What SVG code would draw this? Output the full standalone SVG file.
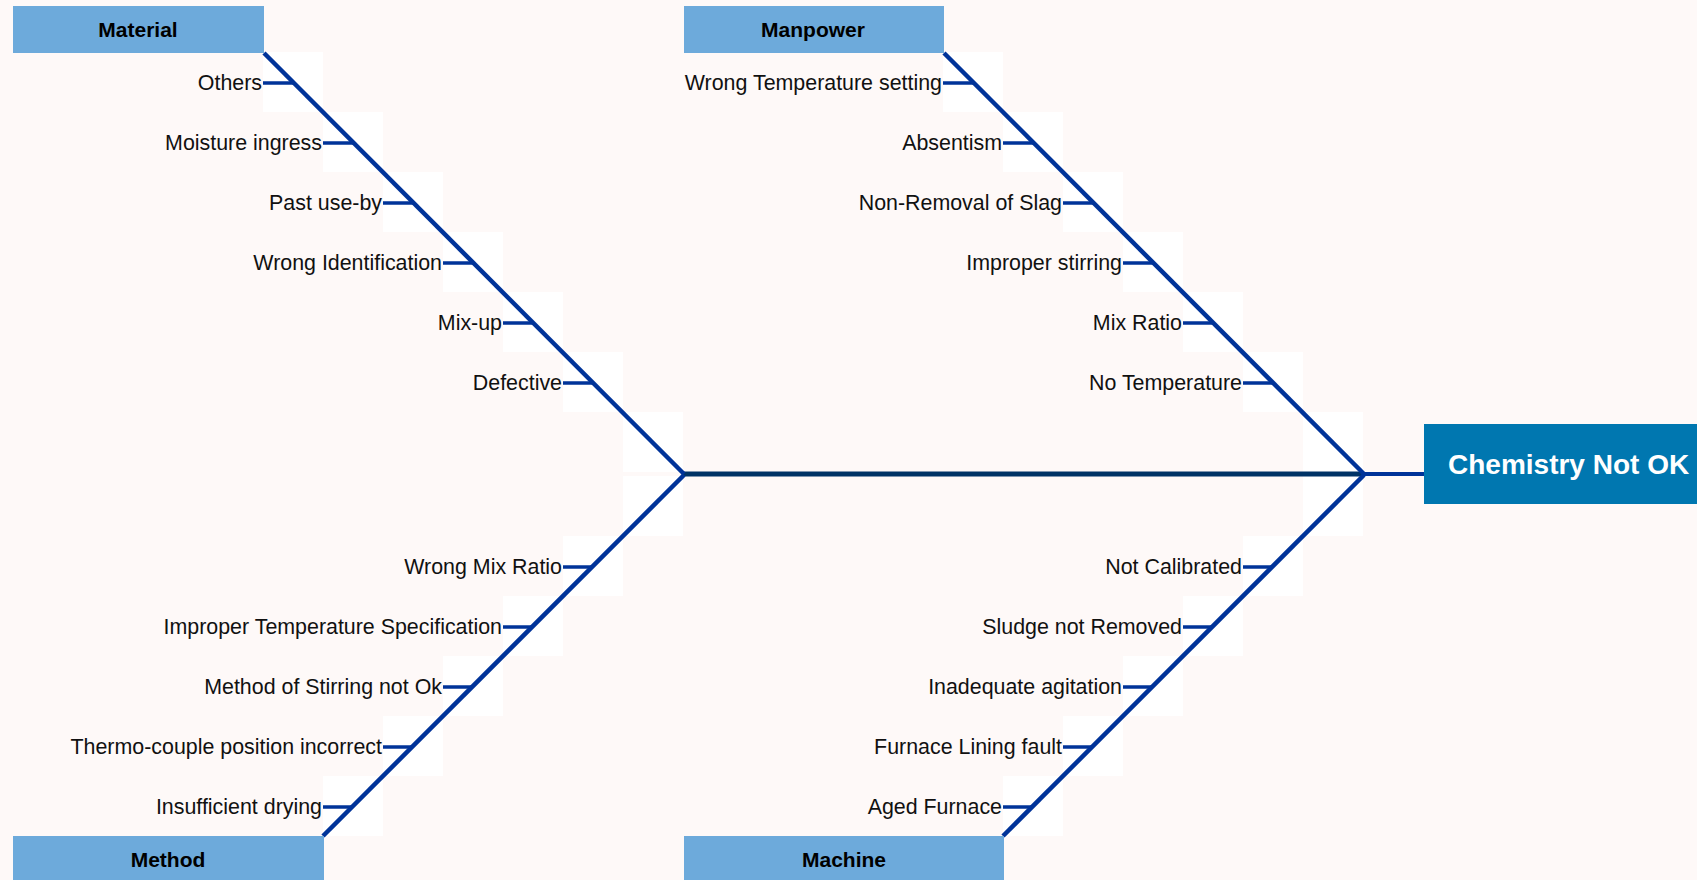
<svg xmlns="http://www.w3.org/2000/svg" width="1697" height="880" viewBox="0 0 1697 880">
<style>
.bg{fill:#FEF9F8}
.cell{fill:#FFFFFF}
.cat{fill:#6DAADB}
.cattxt{font-family:"Liberation Sans",Arial,sans-serif;font-size:21px;font-weight:bold;fill:#000;text-anchor:middle}
.lbl{font-family:"Liberation Sans",Arial,sans-serif;font-size:21.4px;fill:#111;text-anchor:end}
.bone{stroke:#003399;stroke-width:4.5;fill:none}
.tick{stroke:#003399;stroke-width:3.5;fill:none}
.spine{stroke:#003366;stroke-width:5;fill:none}
.stub{stroke:#003399;stroke-width:4;fill:none}
.head{fill:#0077B0}
.headtxt{font-family:"Liberation Sans",Arial,sans-serif;font-size:28px;font-weight:bold;fill:#FFFFFF}
</style>
<rect class="bg" x="0" y="0" width="1697" height="880"/>
<g id="cells">
<rect class="cell" x="263" y="52" width="60" height="60"/>
<rect class="cell" x="323" y="112" width="60" height="60"/>
<rect class="cell" x="383" y="172" width="60" height="60"/>
<rect class="cell" x="443" y="232" width="60" height="60"/>
<rect class="cell" x="503" y="292" width="60" height="60"/>
<rect class="cell" x="563" y="352" width="60" height="60"/>
<rect class="cell" x="623" y="412" width="60" height="60"/>
<rect class="cell" x="943" y="52" width="60" height="60"/>
<rect class="cell" x="1003" y="112" width="60" height="60"/>
<rect class="cell" x="1063" y="172" width="60" height="60"/>
<rect class="cell" x="1123" y="232" width="60" height="60"/>
<rect class="cell" x="1183" y="292" width="60" height="60"/>
<rect class="cell" x="1243" y="352" width="60" height="60"/>
<rect class="cell" x="1303" y="412" width="60" height="60"/>
<rect class="cell" x="623" y="476" width="60" height="60"/>
<rect class="cell" x="563" y="536" width="60" height="60"/>
<rect class="cell" x="503" y="596" width="60" height="60"/>
<rect class="cell" x="443" y="656" width="60" height="60"/>
<rect class="cell" x="383" y="716" width="60" height="60"/>
<rect class="cell" x="323" y="776" width="60" height="60"/>
<rect class="cell" x="1303" y="476" width="60" height="60"/>
<rect class="cell" x="1243" y="536" width="60" height="60"/>
<rect class="cell" x="1183" y="596" width="60" height="60"/>
<rect class="cell" x="1123" y="656" width="60" height="60"/>
<rect class="cell" x="1063" y="716" width="60" height="60"/>
<rect class="cell" x="1003" y="776" width="60" height="60"/>
</g>
<g id="connectors">
<line class="spine" x1="683" y1="474" x2="1363" y2="474"/>
<line class="stub" x1="1362" y1="474" x2="1424" y2="474"/>
<line class="bone" x1="264" y1="53" x2="684" y2="474"/>
<line class="bone" x1="944" y1="53" x2="1364" y2="474"/>
<line class="bone" x1="684" y1="475" x2="323" y2="836"/>
<line class="bone" x1="1364" y1="475" x2="1003" y2="836"/>
<line class="tick" x1="263" y1="83" x2="294" y2="83"/>
<line class="tick" x1="323" y1="143" x2="354" y2="143"/>
<line class="tick" x1="383" y1="203" x2="414" y2="203"/>
<line class="tick" x1="443" y1="263" x2="474" y2="263"/>
<line class="tick" x1="503" y1="323" x2="534" y2="323"/>
<line class="tick" x1="563" y1="383" x2="594" y2="383"/>
<line class="tick" x1="943" y1="83" x2="974" y2="83"/>
<line class="tick" x1="1003" y1="143" x2="1034" y2="143"/>
<line class="tick" x1="1063" y1="203" x2="1094" y2="203"/>
<line class="tick" x1="1123" y1="263" x2="1154" y2="263"/>
<line class="tick" x1="1183" y1="323" x2="1214" y2="323"/>
<line class="tick" x1="1243" y1="383" x2="1274" y2="383"/>
<line class="tick" x1="563" y1="567" x2="592" y2="567"/>
<line class="tick" x1="503" y1="627" x2="532" y2="627"/>
<line class="tick" x1="443" y1="687" x2="472" y2="687"/>
<line class="tick" x1="383" y1="747" x2="412" y2="747"/>
<line class="tick" x1="323" y1="807" x2="352" y2="807"/>
<line class="tick" x1="1243" y1="567" x2="1272" y2="567"/>
<line class="tick" x1="1183" y1="627" x2="1212" y2="627"/>
<line class="tick" x1="1123" y1="687" x2="1152" y2="687"/>
<line class="tick" x1="1063" y1="747" x2="1092" y2="747"/>
<line class="tick" x1="1003" y1="807" x2="1032" y2="807"/>
</g>
<g id="head">
<rect class="head" x="1424" y="424" width="273" height="80"/>
<text class="headtxt" x="1448" y="474">Chemistry Not OK</text>
</g>
<g id="material">
<rect class="cat" x="13" y="6" width="251" height="47"/>
<text class="cattxt" x="138" y="37">Material</text>
</g>
<g id="manpower">
<rect class="cat" x="684" y="6" width="260" height="47"/>
<text class="cattxt" x="813" y="37">Manpower</text>
</g>
<g id="method">
<rect class="cat" x="13" y="836" width="311" height="44"/>
<text class="cattxt" x="168" y="867">Method</text>
</g>
<g id="machine">
<rect class="cat" x="684" y="836" width="320" height="44"/>
<text class="cattxt" x="844" y="867">Machine</text>
</g>
<g id="material-causes">
<text class="lbl" x="262" y="90">Others</text>
<text class="lbl" x="322" y="150">Moisture ingress</text>
<text class="lbl" x="382" y="210">Past use-by</text>
<text class="lbl" x="442" y="270">Wrong Identification</text>
<text class="lbl" x="502" y="330">Mix-up</text>
<text class="lbl" x="562" y="390">Defective</text>
</g>
<g id="manpower-causes">
<text class="lbl" x="942" y="90">Wrong Temperature setting</text>
<text class="lbl" x="1002" y="150">Absentism</text>
<text class="lbl" x="1062" y="210">Non-Removal of Slag</text>
<text class="lbl" x="1122" y="270">Improper stirring</text>
<text class="lbl" x="1182" y="330">Mix Ratio</text>
<text class="lbl" x="1242" y="390">No Temperature</text>
</g>
<g id="method-causes">
<text class="lbl" x="562" y="574">Wrong Mix Ratio</text>
<text class="lbl" x="502" y="634">Improper Temperature Specification</text>
<text class="lbl" x="442" y="694">Method of Stirring not Ok</text>
<text class="lbl" x="382" y="754">Thermo-couple position incorrect</text>
<text class="lbl" x="322" y="814">Insufficient drying</text>
</g>
<g id="machine-causes">
<text class="lbl" x="1242" y="574">Not Calibrated</text>
<text class="lbl" x="1182" y="634">Sludge not Removed</text>
<text class="lbl" x="1122" y="694">Inadequate agitation</text>
<text class="lbl" x="1062" y="754">Furnace Lining fault</text>
<text class="lbl" x="1002" y="814">Aged Furnace</text>
</g>
</svg>
